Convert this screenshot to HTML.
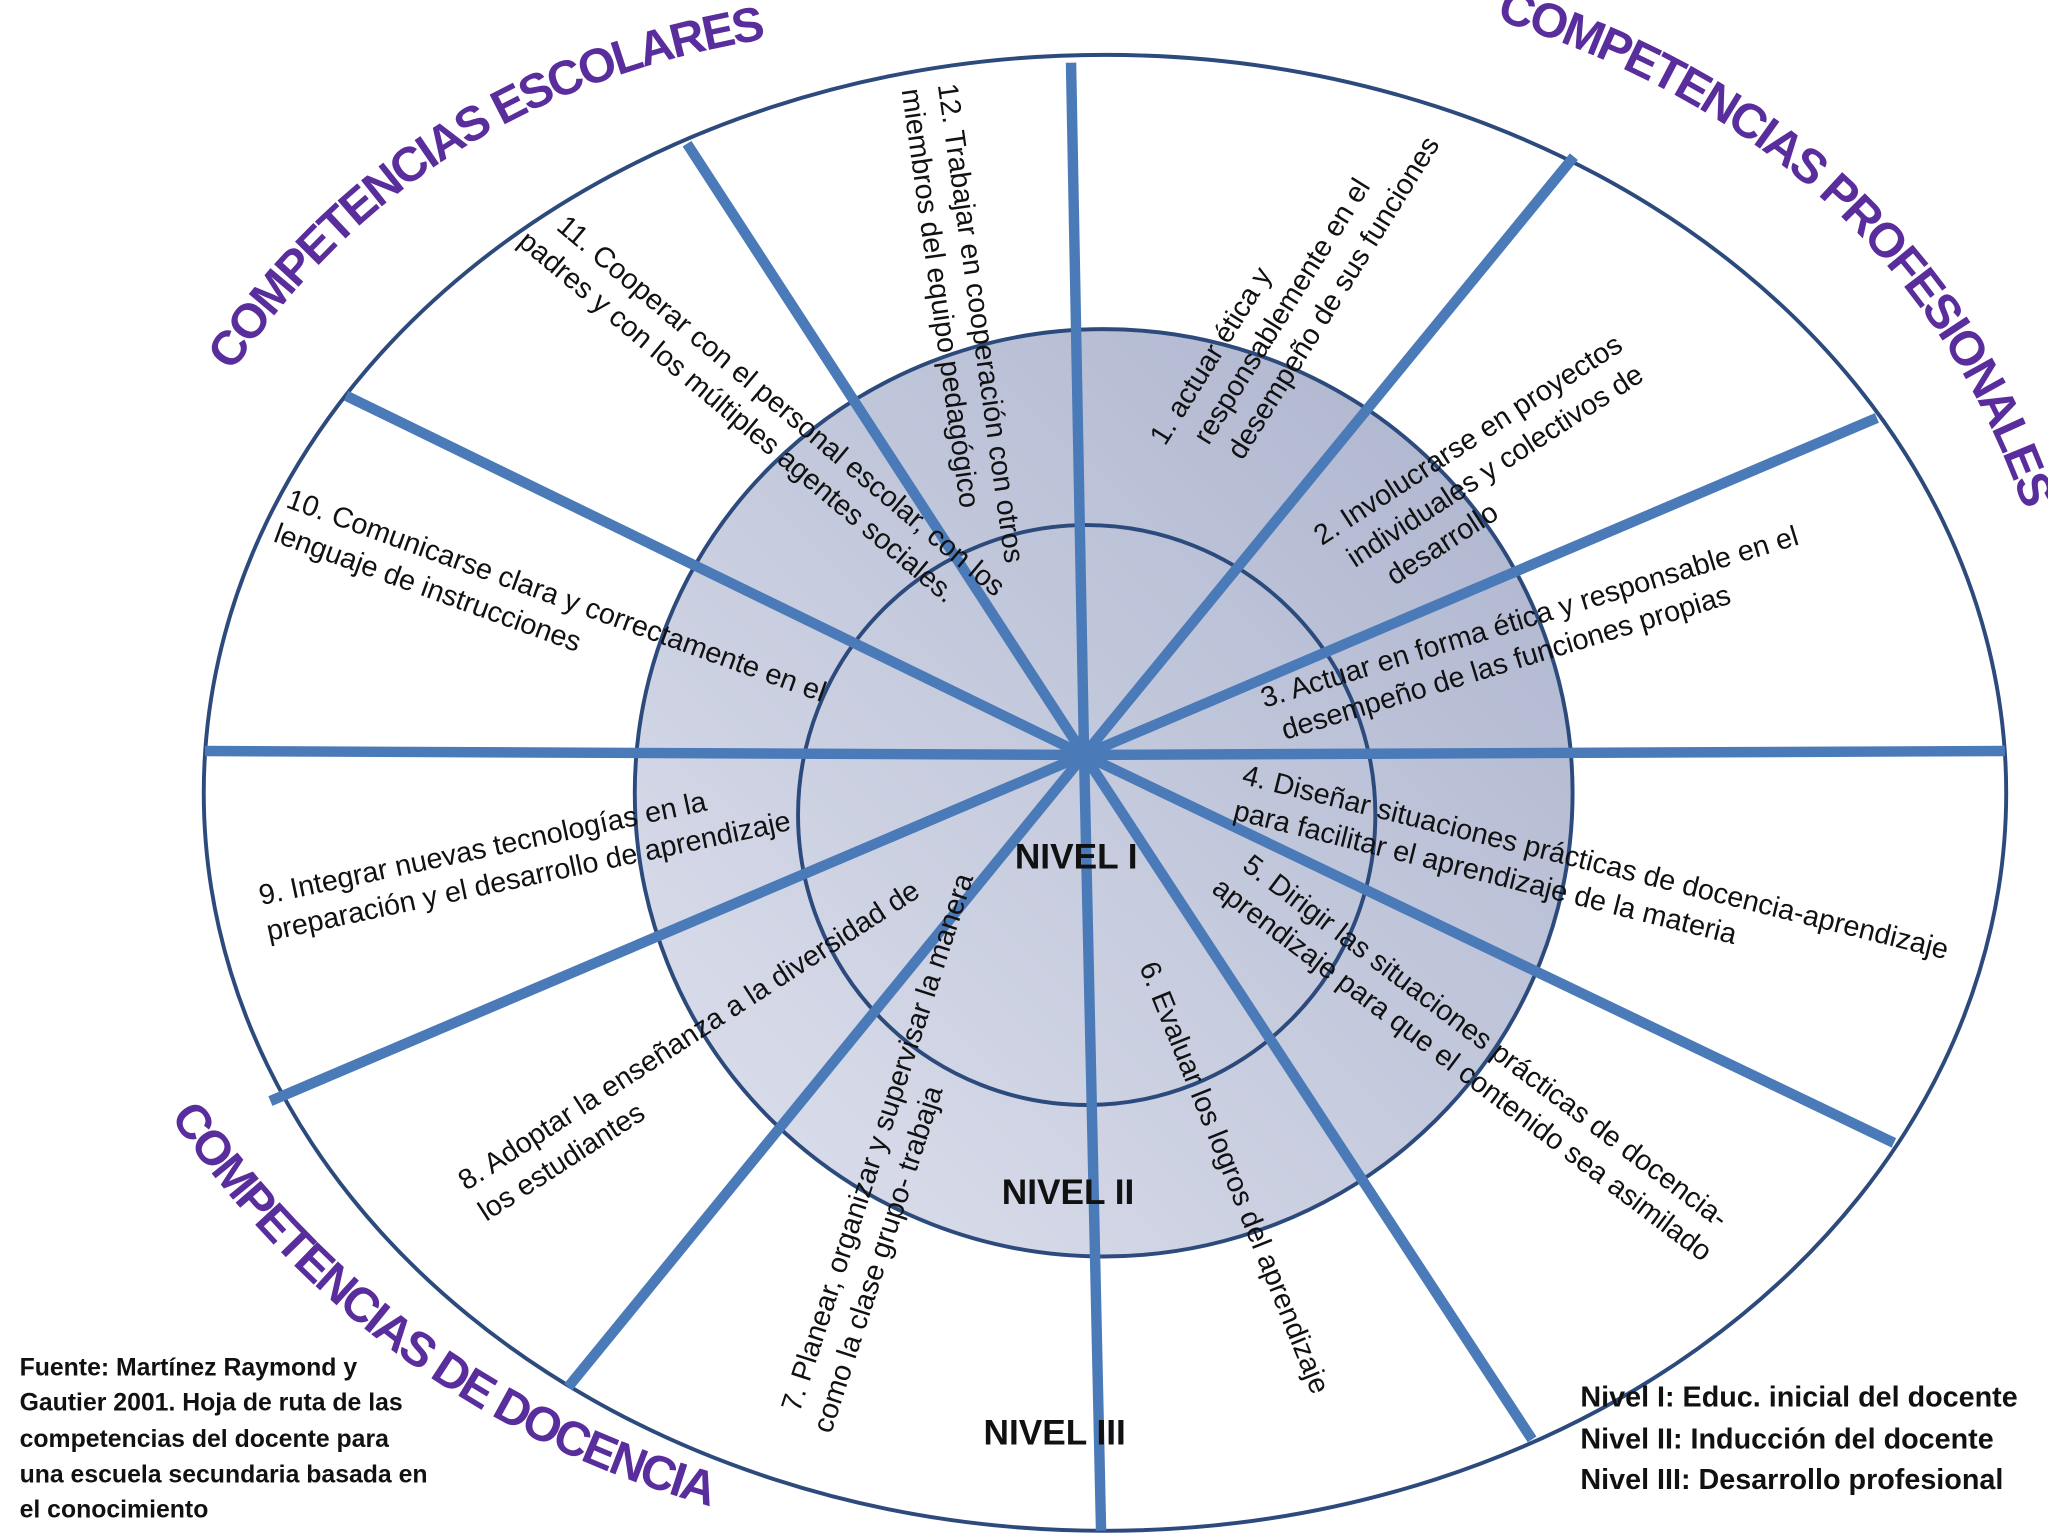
<!DOCTYPE html>
<html><head><meta charset="utf-8"><style>
html,body{margin:0;padding:0;background:#fff;}
svg{display:block;}
text{font-family:"Liberation Sans",sans-serif;}
.t{font-size:22px;fill:#111;}
.h{font-size:37px;font-weight:bold;fill:#5a2d9c;letter-spacing:-2px;}
</style></head><body>
<svg width="2048" height="1536" viewBox="0 0 1568 1176" xmlns="http://www.w3.org/2000/svg">
<defs>
<linearGradient id="g" x1="1" y1="0" x2="0" y2="1">
<stop offset="0" stop-color="#aab2cc"/><stop offset="1" stop-color="#dfe2ee"/>
</linearGradient>
<path id="p1" d="M178,285 Q330,60 620,25" fill="none"/>
<path id="p2" d="M1145,15 Q1480,120 1565,440" fill="none"/>
<path id="p3" d="M130,855 Q300,1100 590,1165" fill="none"/>
</defs>
<ellipse cx="846" cy="607" rx="690" ry="565" fill="#fff" stroke="#2c4a7c" stroke-width="3"/>
<ellipse cx="845" cy="607" rx="359" ry="355" fill="url(#g)" stroke="#2c4a7c" stroke-width="3"/>
<ellipse cx="832" cy="624" rx="221" ry="222" fill="none" stroke="#2c4a7c" stroke-width="3"/>
<g stroke="#4a7ab8" stroke-width="8" stroke-linecap="butt">
<line x1="830" y1="578" x2="820" y2="48"/>
<line x1="830" y1="578" x2="1205" y2="120"/>
<line x1="830" y1="578" x2="1437" y2="320"/>
<line x1="830" y1="578" x2="1535" y2="575"/>
<line x1="830" y1="578" x2="1450" y2="875"/>
<line x1="830" y1="578" x2="1173" y2="1102"/>
<line x1="830" y1="578" x2="843" y2="1172"/>
<line x1="830" y1="578" x2="435" y2="1062"/>
<line x1="830" y1="578" x2="207" y2="843"/>
<line x1="830" y1="578" x2="157" y2="575"/>
<line x1="830" y1="578" x2="265" y2="303"/>
<line x1="830" y1="578" x2="526" y2="110"/>
</g>
<text class="h"><textPath href="#p1">COMPETENCIAS ESCOLARES</textPath></text>
<text class="h"><textPath href="#p2">COMPETENCIAS PROFESIONALES</textPath></text>
<text class="h"><textPath href="#p3">COMPETENCIAS DE DOCENCIA</textPath></text>
<g class="t">
<text transform="translate(892,342) rotate(-58)"><tspan x="0">1. actuar ética y</tspan><tspan x="18" dy="28">responsablemente en el</tspan><tspan x="22" dy="28">desempeño de sus funciones</tspan></text>
<text transform="translate(1012,418) rotate(-33)"><tspan x="0">2. Involucrarse en proyectos</tspan><tspan x="12" dy="28">individuales y colectivos de</tspan><tspan x="30" dy="28">desarrollo</tspan></text>
<text transform="translate(968,542) rotate(-17)"><tspan x="0">3. Actuar en forma ética y responsable en el</tspan><tspan x="8" dy="28">desempeño de las funciones propias</tspan></text>
<text transform="translate(950,600) rotate(14)"><tspan x="0">4. Diseñar situaciones prácticas de docencia-aprendizaje</tspan><tspan x="0" dy="28">para facilitar el aprendizaje de la materia</tspan></text>
<text transform="translate(950,665) rotate(37)"><tspan x="0">5. Dirigir las situaciones prácticas de docencia-</tspan><tspan x="-8" dy="28">aprendizaje para que el contenido sea asimilado</tspan></text>
<text transform="translate(872,740) rotate(68)">6. Evaluar los logros del aprendizaje</text>
<text transform="translate(612,1082) rotate(-72)"><tspan x="0">7. Planear, organizar y supervisar la manera</tspan><tspan x="-8" dy="28">como la clase grupo- trabaja</tspan></text>
<text transform="translate(357,912) rotate(-33)"><tspan x="0">8. Adoptar la enseñanza a la diversidad de</tspan><tspan x="0" dy="28">los estudiantes</tspan></text>
<text transform="translate(200,693) rotate(-12)"><tspan x="0">9. Integrar nuevas tecnologías en la</tspan><tspan x="0" dy="28">preparación y el desarrollo de aprendizaje</tspan></text>
<text transform="translate(218,388) rotate(20)"><tspan x="0">10. Comunicarse clara y correctamente en el</tspan><tspan x="0" dy="28">lenguaje de instrucciones</tspan></text>
<text transform="translate(425,175) rotate(40)"><tspan x="0">11. Cooperar con el personal escolar, con los</tspan><tspan x="-15" dy="28">padres y con los múltiples agentes sociales.</tspan></text>
<text transform="translate(718,65) rotate(82)"><tspan x="0">12. Trabajar en cooperación con otros</tspan><tspan x="0" dy="28">miembros del equipo pedagógico</tspan></text>
</g>
<g font-size="27" font-weight="bold" fill="#111">
<text x="777" y="665">NIVEL I</text>
<text x="767" y="922">NIVEL II</text>
<text x="753" y="1106">NIVEL III</text>
</g>
<g font-size="19" font-weight="bold" fill="#111">
<text x="15" y="1053">Fuente: Martínez Raymond y</text>
<text x="15" y="1080">Gautier 2001. Hoja de ruta de las</text>
<text x="15" y="1108">competencias del docente para</text>
<text x="15" y="1135">una escuela secundaria basada en</text>
<text x="15" y="1162">el conocimiento</text>
</g>
<g font-size="22" font-weight="bold" fill="#111">
<text x="1210" y="1077">Nivel I: Educ. inicial del docente</text>
<text x="1210" y="1109">Nivel II: Inducción del docente</text>
<text x="1210" y="1140">Nivel III: Desarrollo profesional</text>
</g>
</svg>
</body></html>
